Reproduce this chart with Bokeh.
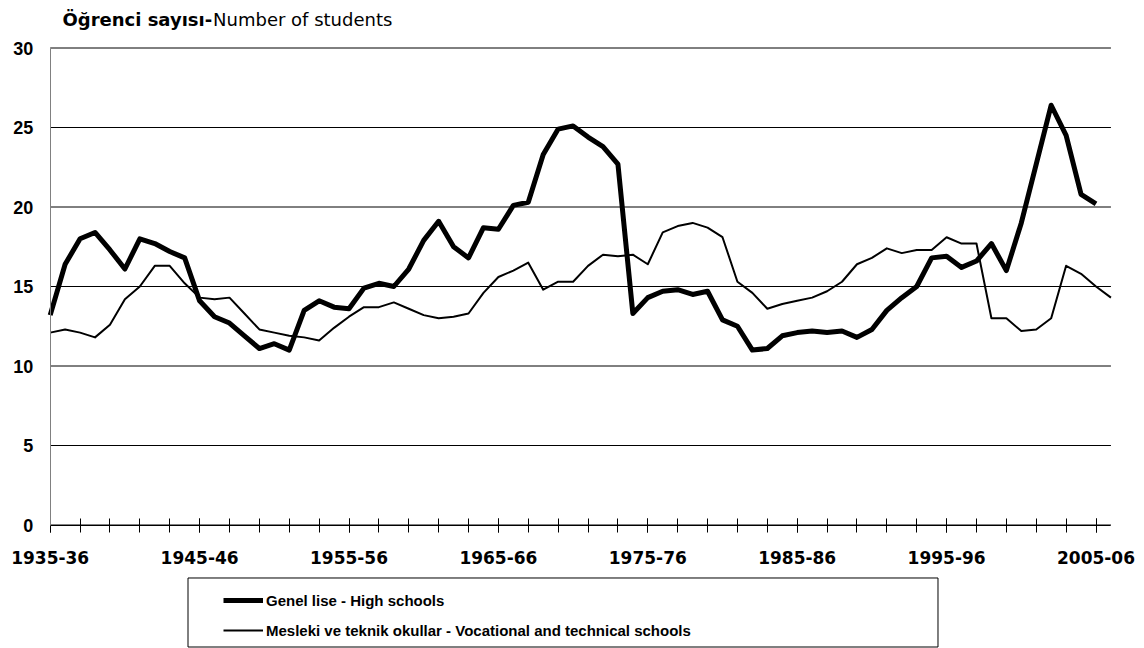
from bokeh.plotting import figure
from bokeh.models import (Range1d, FixedTicker, Label, Legend, LegendItem,
                          BoxAnnotation)
from bokeh.embed import file_html
from bokeh.resources import INLINE

# ---- data -------------------------------------------------------------
tick_labels = ["1935-36", "1945-46", "1955-56", "1965-66",
               "1975-76", "1985-86", "1995-96", "2005-06"]

# Genel lise - High schools (1935-36 .. 2005-06)
high_schools = [13.2, 16.4, 18.0, 18.4, 17.3, 16.1, 18.0, 17.7, 17.2, 16.8,
                14.1, 13.1, 12.7, 11.9, 11.1, 11.4, 11.0, 13.5, 14.1, 13.7,
                13.6, 14.9, 15.2, 15.0, 16.1, 17.9, 19.1, 17.5, 16.8, 18.7,
                18.6, 20.1, 20.3, 23.3, 24.9, 25.1, 24.4, 23.8, 22.7, 13.3,
                14.3, 14.7, 14.8, 14.5, 14.7, 12.9, 12.5, 11.0, 11.1, 11.9,
                12.1, 12.2, 12.1, 12.2, 11.8, 12.3, 13.5, 14.3, 15.0, 16.8,
                16.9, 16.2, 16.6, 17.7, 16.0, 19.0, 22.7, 26.4, 24.5, 20.8,
                20.2]

# Mesleki ve teknik okullar - Vocational and technical schools (1935-36 .. 2006-07)
vocational = [12.1, 12.3, 12.1, 11.8, 12.6, 14.2, 15.0, 16.3, 16.3, 15.2,
              14.3, 14.2, 14.3, 13.3, 12.3, 12.1, 11.9, 11.8, 11.6, 12.4,
              13.1, 13.7, 13.7, 14.0, 13.6, 13.2, 13.0, 13.1, 13.3, 14.6,
              15.6, 16.0, 16.5, 14.8, 15.3, 15.3, 16.3, 17.0, 16.9, 17.0,
              16.4, 18.4, 18.8, 19.0, 18.7, 18.1, 15.3, 14.6, 13.6, 13.9,
              14.1, 14.3, 14.7, 15.3, 16.4, 16.8, 17.4, 17.1, 17.3, 17.3,
              18.1, 17.7, 17.7, 13.0, 13.0, 12.2, 12.3, 13.0, 16.3, 15.8,
              15.0, 14.3]

y_ticks = [0, 5, 10, 15, 20, 25, 30]

x_hs = list(range(len(high_schools)))
x_voc = list(range(len(vocational)))
n_cat = len(vocational) - 1          # last category index (71)
y_max = y_ticks[-1]

# ---- figure (the frame fills the whole canvas; axes sit at fixed spots) --
W, H = 1144, 648
px_x = 14.94      # pixels per category
px_y = 15.9       # pixels per student
left_px, top_px = 49.7, 47.5
x0 = -left_px / px_x
x1 = x0 + W / px_x
y1 = y_max + top_px / px_y
y0 = y1 - H / px_y

p = figure(width=W, height=H, output_backend="svg", toolbar_location=None,
           x_range=Range1d(x0, x1), y_range=Range1d(y0, y1),
           min_border_left=0, min_border_right=0,
           min_border_top=0, min_border_bottom=0)
p.title = None
p.outline_line_color = None
p.background_fill_color = "white"
p.border_fill_color = "white"
p.xgrid.visible = False
p.ygrid.visible = False

# horizontal gridlines only across the category span
p.segment(x0=[0] * len(y_ticks), x1=[n_cat] * len(y_ticks),
          y0=y_ticks, y1=y_ticks, line_color="black", line_width=1)

label_pos = [i * 10 for i in range(len(tick_labels))]
minor_pos = list(range(0, n_cat, 2))

xa = p.xaxis[0]
xa.fixed_location = 0
xa.bounds = (0, n_cat)
xa.ticker = FixedTicker(ticks=label_pos, minor_ticks=minor_pos)
xa.major_label_overrides = {pos: lab for pos, lab in zip(label_pos, tick_labels)}
xa.axis_line_color = "black"
xa.axis_line_width = 1
xa.major_tick_in = 7
xa.major_tick_out = 7
xa.minor_tick_in = 7
xa.minor_tick_out = 7
xa.major_tick_line_color = "black"
xa.minor_tick_line_color = "black"
xa.major_label_text_font = "DejaVu Sans"
xa.major_label_text_font_style = "bold"
xa.major_label_text_font_size = "17px"
xa.major_label_text_color = "black"
xa.major_label_standoff = 19

ya = p.yaxis[0]
ya.fixed_location = 0
ya.bounds = (0, y_max)
ya.ticker = FixedTicker(ticks=y_ticks, minor_ticks=[])
ya.axis_line_color = "#808080"
ya.major_tick_in = 0
ya.major_tick_out = 0
ya.minor_tick_in = 0
ya.minor_tick_out = 0
ya.major_label_text_font = "Liberation Sans"
ya.major_label_text_font_style = "bold"
ya.major_label_text_font_size = "18px"
ya.major_label_text_color = "black"
ya.major_label_standoff = 17

r_voc = p.line(x_voc, vocational, line_width=2, line_color="black",
               line_join="round")
r_hs = p.line(x_hs, high_schools, line_width=5, line_color="black",
              line_join="round")

# ---- title ------------------------------------------------------------
p.add_layout(Label(x=0.82, y=31.82, text="Öğrenci sayısı-",
                   text_font="DejaVu Sans", text_font_style="bold",
                   text_font_size="18px", text_baseline="middle",
                   text_color="black"))
p.add_layout(Label(x=10.90, y=31.82, text="Number of students",
                   text_font="DejaVu Sans", text_font_style="normal",
                   text_font_size="18px", text_baseline="middle",
                   text_color="black"))

# ---- legend -----------------------------------------------------------
p.add_layout(BoxAnnotation(left=9.224, right=59.424, top=-3.333, bottom=-7.673,
                           fill_alpha=0, line_color="black", line_alpha=1,
                           line_width=1))

legend = Legend(items=[
    LegendItem(label="Genel lise - High schools", renderers=[r_hs]),
    LegendItem(label="Mesleki ve teknik okullar - Vocational and technical schools",
               renderers=[r_voc]),
], location=(223, 8), padding=0, margin=0, spacing=10,
    glyph_width=40, glyph_height=20, label_height=20, label_standoff=3,
    label_text_font="Liberation Sans",
    label_text_font_style="bold", label_text_font_size="15px",
    label_text_color="black",
    border_line_color=None, background_fill_alpha=0)
p.add_layout(legend)

open("out.html", "w").write(file_html(p, INLINE))
